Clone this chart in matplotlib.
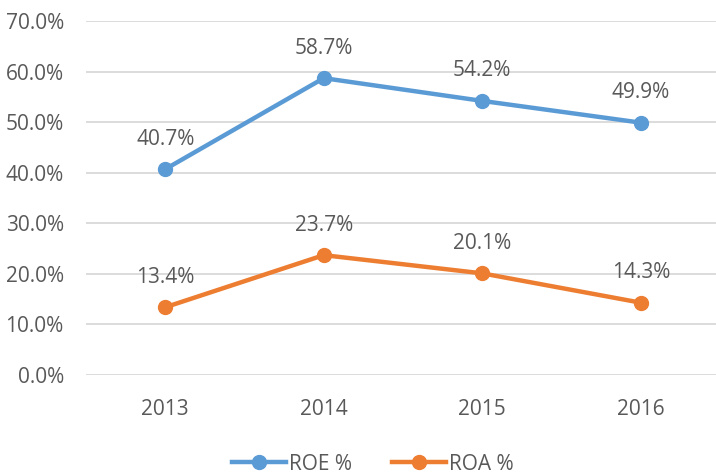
import matplotlib.pyplot as plt
from matplotlib.ticker import FuncFormatter

years = ['2013', '2014', '2015', '2016']
roe = [40.7, 58.7, 54.2, 49.9]
roa = [13.4, 23.7, 20.1, 14.3]

plt.rcParams['font.family'] = ['Open Sans', 'DejaVu Sans']
text_color = '#595959'
fs = 15

fig = plt.figure(figsize=(7.16, 4.76), dpi=100)
ax = fig.add_axes([86 / 716, 1 - 375 / 476, 634 / 716, 354 / 476])

x = list(range(len(years)))
ax.plot(x, roe, color='#5B9BD5', lw=3.2, marker='o', ms=10, label='ROE %')
ax.plot(x, roa, color='#ED7D31', lw=3.2, marker='o', ms=10, label='ROA %')

for xi, v in zip(x, roe):
    ax.annotate(f'{v:.1f}%', (xi, v), xytext=(0, 14), textcoords='offset points',
                ha='center', va='bottom', fontsize=fs, color=text_color)
for xi, v in zip(x, roa):
    ax.annotate(f'{v:.1f}%', (xi, v), xytext=(0, 14), textcoords='offset points',
                ha='center', va='bottom', fontsize=fs, color=text_color)

ax.set_xlim(-0.5, 3.5)
ax.set_ylim(0, 70)
ax.set_yticks(range(0, 71, 10))
ax.yaxis.set_major_formatter(FuncFormatter(lambda v, p: f'{v:.1f}%'))
ax.set_xticks(x)
ax.set_xticklabels(years)
ax.tick_params(axis='both', length=0, labelsize=fs, labelcolor=text_color)
ax.tick_params(axis='y', pad=16)
ax.tick_params(axis='x', pad=17)
ax.grid(axis='y', color='#D9D9D9', lw=1.3)
ax.set_axisbelow(True)
for s in ax.spines.values():
    s.set_visible(False)

fig.legend(loc='center', bbox_to_anchor=(0.521, 1 - 464 / 476), ncol=2, frameon=False,
           fontsize=fs, labelcolor=text_color, handlelength=2.6, columnspacing=1.9,
           handletextpad=0.15)

fig.savefig('out.png', dpi=100)
